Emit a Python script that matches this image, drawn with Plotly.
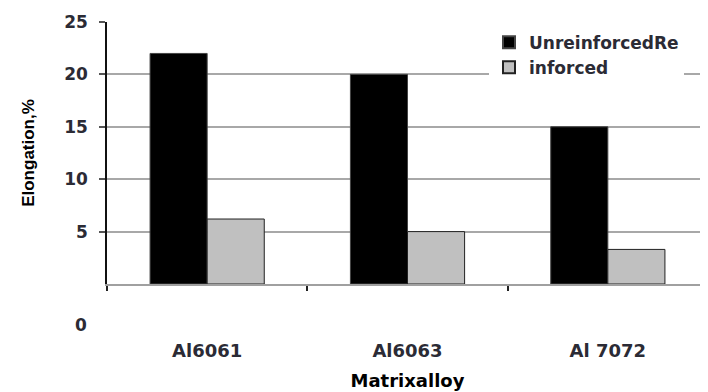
import plotly.graph_objects as go

categories = ["Al6061", "Al6063", "Al 7072"]
unreinforced = [22, 20, 15]
reinforced = [6.2, 5.0, 3.3]
y_ticks = [5, 10, 15, 20, 25]
series_names = ["UnreinforcedRe", "inforced"]

# the page body has an 8px margin, so the figure is made 8px smaller
W, H = 700, 384
L, R, T, B = 99, 0, 14, 108
pw, ph = W - L - R, H - T - B

ytick_font = dict(family="DejaVu Sans", size=17, color="#2b2b35", weight="bold")
xtick_font = dict(family="DejaVu Sans", size=18, color="#2b2b35", weight="bold")

fig = go.Figure()
fig.add_trace(go.Bar(x=categories, y=unreinforced, name=series_names[0],
                     marker=dict(color="#000000", line=dict(color="#444444", width=1))))
fig.add_trace(go.Bar(x=categories, y=reinforced, name=series_names[1],
                     marker=dict(color="#c0c0c0", line=dict(color="#222222", width=1))))

fig.update_layout(
    width=W, height=H,
    margin=dict(l=L, r=R, t=T, b=B, autoexpand=False),
    paper_bgcolor="white", plot_bgcolor="white",
    barmode="group", bargap=0.43, bargroupgap=0,
    showlegend=True,
    legend=dict(x=(481 - L) / pw, xanchor="left", y=0.99, yanchor="top",
                bgcolor="white", borderwidth=0, tracegroupgap=0,
                font=dict(family="DejaVu Sans", size=17, color="#2b2b35", weight="bold"),
                itemsizing="constant"),
    font=dict(family="DejaVu Sans"),
)

fig.update_yaxes(
    range=[0, 25], tickvals=y_ticks, ticktext=[str(v) for v in y_ticks],
    showgrid=True, gridcolor="#a8a8a8", gridwidth=2,
    showline=True, linecolor="#111111", linewidth=1.5,
    ticks="outside", ticklen=6, tickcolor="#555555", tickwidth=1.5,
    ticklabelstandoff=8, tickfont=ytick_font,
    zeroline=False,
    title=dict(text="Elongation,%", standoff=25,
               font=dict(family="Liberation Sans Narrow, Liberation Sans", size=17, color="#000000", weight="bold")),
)
fig.update_xaxes(
    range=[-0.5, 2.5],
    showline=True, linecolor="#a0a0a0", linewidth=2,
    ticks="outside", tickson="boundaries", ticklen=5, tickcolor="#222222", tickwidth=1.5,
    ticklabelstandoff=49, tickfont=xtick_font,
    title=dict(text="Matrixalloy", standoff=15,
               font=dict(family="DejaVu Sans", size=18, color="#000000", weight="bold")),
)

fig.add_annotation(text="0", xref="paper", yref="paper",
                   x=-18 / pw, xanchor="right", y=-(317 - 276) / ph, yanchor="middle",
                   showarrow=False, font=ytick_font)

fig.write_html("out.html")
